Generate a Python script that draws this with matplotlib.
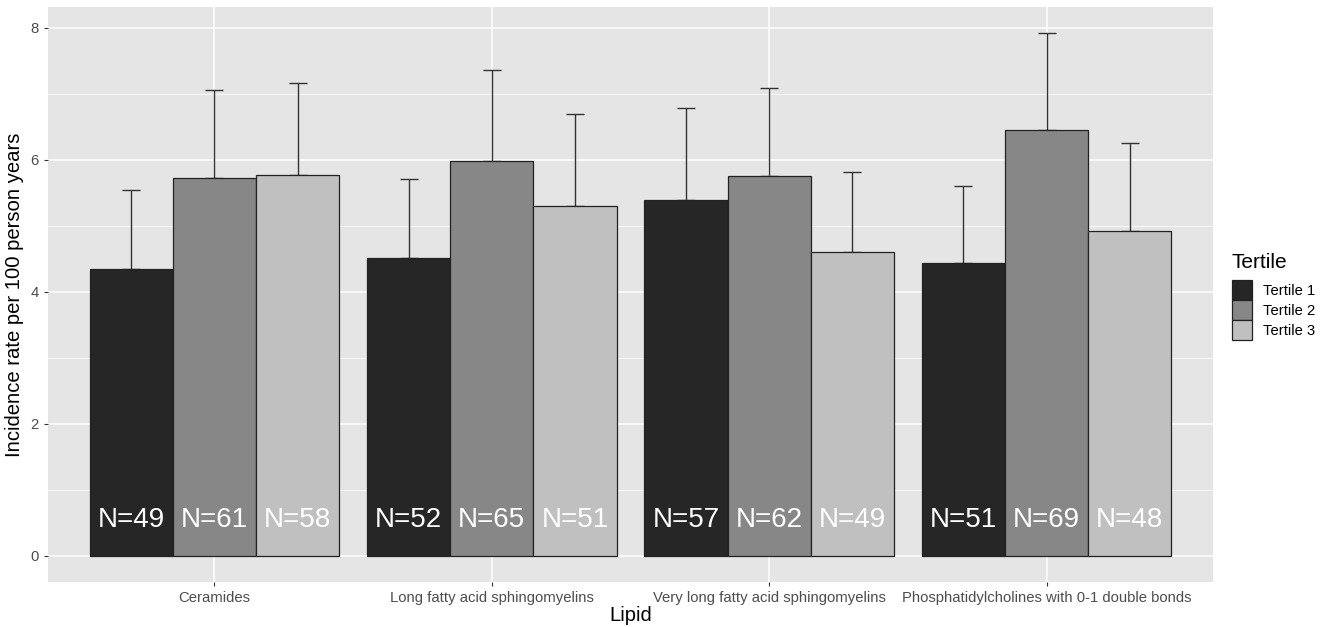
import numpy as np
import matplotlib
matplotlib.use("Agg")
import matplotlib.pyplot as plt
from matplotlib.patches import Patch

plt.rcParams['font.family'] = ['Liberation Sans', 'DejaVu Sans']

lipids = ["Ceramides", "Long fatty acid sphingomyelins",
          "Very long fatty acid sphingomyelins",
          "Phosphatidylcholines with 0-1 double bonds"]
tertiles = ["Tertile 1", "Tertile 2", "Tertile 3"]
rates = [
    [4.34, 4.51, 5.39, 4.43],   # Tertile 1
    [5.72, 5.99, 5.75, 6.45],   # Tertile 2
    [5.77, 5.30, 4.60, 4.92],   # Tertile 3
]
upper = [
    [5.55, 5.71, 6.78, 5.61],
    [7.06, 7.36, 7.09, 7.92],
    [7.16, 6.69, 5.81, 6.25],
]
counts = [
    [49, 52, 57, 51],
    [61, 65, 62, 69],
    [58, 51, 49, 48],
]
colors = ["#262626", "#878787", "#c0c0c0"]

W, H = 1329, 627
fig = plt.figure(figsize=(W / 100, H / 100), dpi=100)
ax = fig.add_axes([48 / W, 1 - 582 / H, (1213 - 48) / W, (582 - 7) / H])
ax.set_facecolor("#e5e5e5")

x = np.arange(1, len(lipids) + 1)
width = 0.3
for i, t in enumerate(tertiles):
    pos = x + (i - 1) * width
    vals = np.array(rates[i])
    up = np.array(upper[i])
    ax.bar(pos, vals, width=width, color=colors[i], edgecolor="#222222",
           linewidth=0.9, zorder=3, label=t)
    ax.errorbar(pos, vals, yerr=[np.zeros_like(vals), up - vals], fmt="none",
                ecolor="#333333", elinewidth=1.0, capsize=6.5, capthick=1.0, zorder=2)
    for p, n in zip(pos, counts[i]):
        ax.text(p, 0.55, f"N={n}", color="white", ha="center", va="center",
                fontsize=20, zorder=4)

ax.set_xlim(0.4, 4.6)
ax.set_ylim(-0.396, 8.316)
ax.set_yticks([0, 2, 4, 6, 8])
ax.set_yticks([1, 3, 5, 7], minor=True)
ax.set_xticks(x)
ax.set_xticklabels(lipids)
ax.grid(which="major", color="white", linewidth=1.1, zorder=0)
ax.grid(which="minor", axis="y", color="white", linewidth=0.55, zorder=0)
ax.set_axisbelow(True)
for s in ax.spines.values():
    s.set_visible(False)
ax.tick_params(axis="both", which="major", length=3, color="#333333",
               labelcolor="#4d4d4d", labelsize=10.7)
ax.tick_params(axis="both", which="minor", length=0)
ax.set_xlabel("Lipid", fontsize=14.6, labelpad=1)
ax.set_ylabel("Incidence rate per 100 person years", fontsize=14.6, labelpad=5)

# legend (title drawn separately so the gap can match ggplot's)
fig.text(1231 / W, 1 - 268 / H, "Tertile", fontsize=15, ha="left", va="baseline")
handles = [Patch(facecolor=c, edgecolor="#222222", linewidth=0.9) for c in colors]
fig.legend(handles, tertiles, loc="upper left",
           bbox_to_anchor=(1232 / W, 1 - 280 / H), frameon=False,
           fontsize=10.6, handlelength=1.36, handleheight=1.71,
           handletextpad=0.75, labelspacing=0.0, borderpad=0, borderaxespad=0)

fig.savefig("out.png", dpi=100)
